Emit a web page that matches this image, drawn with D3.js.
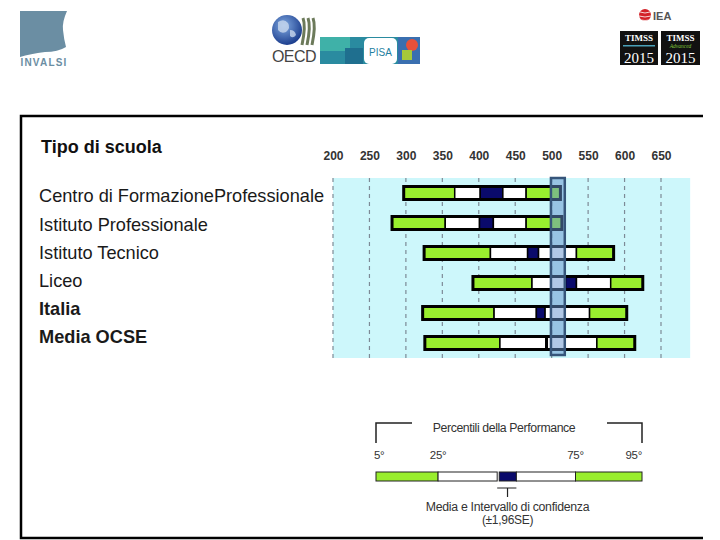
<!DOCTYPE html>
<html>
<head>
<meta charset="utf-8">
<script src="https://cdn.jsdelivr.net/npm/d3@7"></script>
<style>
  body { margin: 0; background: #fff; }
  svg { display: block; font-family: "Liberation Sans", Arial, sans-serif; }
</style>
</head>
<body>
<script>
// dati (punteggi PISA per tipo di scuola)
var categories = ["Centro di FormazioneProfessionale", "Istituto Professionale", "Istituto Tecnico", "Liceo", "Italia", "Media OCSE"];
var boldRows = ["Italia", "Media OCSE"];
var p5     = [297, 281, 325, 392, 323, 326];
var p25    = [367, 354, 416, 473, 421, 429];
var ciLow  = [402, 401, 467, 519, 479, 492];
var ciHigh = [433, 420, 482, 534, 491, 494];
var p75    = [465, 465, 534, 581, 552, 562];
var p95    = [512, 514, 585, 625, 603, 614];
var tickValues = [200, 250, 300, 350, 400, 450, 500, 550, 600, 650];
var oecdBand = [499, 518];
var bgRange = [200, 690];

// legenda (posizioni schematiche in percentili)
var legendLabels = ["5°", "25°", "75°", "95°"];

var W = 720, H = 540;
var svg = d3.select("body").append("svg").attr("width", W).attr("height", H);

var x = d3.scaleLinear().domain([200, 650]).range([333, 661]);
var yBar = d3.scalePoint().domain(categories).range([193, 343]);
var yLab = d3.scalePoint().domain(categories).range([196, 337]);

var green = "#99ee2e", navy = "#0a0a6b", cyan = "#cdf7fb";

// ---- cornice ----
svg.append("path")
  .attr("d", "M703,116 H21 V538 H703")
  .attr("fill", "none").attr("stroke", "#000").attr("stroke-width", 2.5);

// ---- loghi (approssimati) ----
var logos = svg.append("g");
// INVALSI
logos.append("path")
  .attr("d", "M20,11 L67,11 Q62,22 63,30 Q64,40 66,47 Q58,52 45,52 Q30,54 20,57 Z")
  .attr("fill", "#6b8ea3");
logos.append("text").attr("x", 44).attr("y", 66).attr("text-anchor", "middle")
  .attr("font-size", 10).attr("font-weight", "bold").attr("letter-spacing", 1.2)
  .attr("fill", "#6b8ea3").text("INVALSI");
// OECD
var grad = svg.append("defs").append("radialGradient").attr("id", "globe")
  .attr("cx", "40%").attr("cy", "35%").attr("r", "65%");
grad.append("stop").attr("offset", "0%").attr("stop-color", "#7fa8e0");
grad.append("stop").attr("offset", "100%").attr("stop-color", "#1d3f8f");
logos.append("circle").attr("cx", 287).attr("cy", 30).attr("r", 15).attr("fill", "url(#globe)");
logos.append("path").attr("d", "M278,22 q6,-4 10,1 q3,5 -2,9 q-5,2 -8,-2 z M290,30 q5,0 6,5 q-3,4 -6,1 z")
  .attr("fill", "#c9d8ee").attr("opacity", 0.8);
[0, 5, 10].forEach(function (d) {
  logos.append("path")
    .attr("d", "M" + (303 + d) + ",18 q3,8 -1,27")
    .attr("fill", "none").attr("stroke", "#6c7a5a").attr("stroke-width", 3);
});
logos.append("text").attr("x", 294).attr("y", 62).attr("text-anchor", "middle")
  .attr("font-size", 16).attr("fill", "#444").attr("letter-spacing", -0.5).text("OECD");
// PISA
logos.append("rect").attr("x", 320).attr("y", 37).attr("width", 100).attr("height", 27).attr("fill", "#2a8ba0");
logos.append("rect").attr("x", 320).attr("y", 37).attr("width", 30).attr("height", 14).attr("fill", "#3fb1a8");
logos.append("rect").attr("x", 345).attr("y", 48).attr("width", 18).attr("height", 16).attr("fill", "#1f6f8f");
logos.append("rect").attr("x", 398).attr("y", 37).attr("width", 22).attr("height", 27).attr("fill", "#3a6fb0");
logos.append("circle").attr("cx", 412).attr("cy", 45).attr("r", 6).attr("fill", "#e8503a");
logos.append("path").attr("d", "M402,50 h10 v10 h-10 z").attr("fill", "#a6c93a");
logos.append("rect").attr("x", 364).attr("y", 38).attr("width", 33).attr("height", 26).attr("rx", 5).attr("fill", "#fff");
logos.append("text").attr("x", 380.5).attr("y", 56).attr("text-anchor", "middle")
  .attr("font-size", 10).attr("fill", "#1f7f9f").text("PISA");
// IEA
logos.append("circle").attr("cx", 645).attr("cy", 15).attr("r", 6).attr("fill", "#d32128");
logos.append("path").attr("d", "M640,12 q5,2 10,0 M639,16 q6,2 12,0 M641,20 q4,1 8,0")
  .attr("fill", "none").attr("stroke", "#fff").attr("stroke-width", 0.8);
logos.append("text").attr("x", 653).attr("y", 20).attr("font-size", 11).attr("font-weight", "bold")
  .attr("fill", "#555").text("IEA");
// TIMSS
[[620, 38], [661, 39]].forEach(function (b, i) {
  logos.append("rect").attr("x", b[0]).attr("y", 31).attr("width", b[1]).attr("height", 34).attr("fill", "#111");
  logos.append("text").attr("x", b[0] + b[1] / 2).attr("y", 41).attr("text-anchor", "middle")
    .attr("font-family", "'Liberation Serif', serif").attr("font-weight", "bold")
    .attr("font-size", 9).attr("fill", "#fff").text("TIMSS");
  if (i === 0) {
    logos.append("rect").attr("x", b[0] + 3).attr("y", 45).attr("width", b[1] - 6).attr("height", 1.5).attr("fill", "#4aa0b8");
  } else {
    logos.append("text").attr("x", b[0] + b[1] / 2).attr("y", 47.5).attr("text-anchor", "middle")
      .attr("font-family", "'Liberation Serif', serif").attr("font-style", "italic")
      .attr("font-size", 5.5).attr("fill", "#7fc43a").text("Advanced");
  }
  logos.append("text").attr("x", b[0] + b[1] / 2).attr("y", 63).attr("text-anchor", "middle")
    .attr("font-family", "'Liberation Serif', serif")
    .attr("font-size", 15).attr("fill", "#fff").text("2015");
});

// ---- titolo e etichette ----
svg.append("text").attr("x", 41).attr("y", 153)
  .attr("font-size", 18).attr("font-weight", "bold").attr("fill", "#111").text("Tipo di scuola");

svg.selectAll(".lab").data(categories).enter().append("text")
  .attr("class", "lab")
  .attr("x", 39)
  .attr("y", function (d) { return yLab(d); })
  .attr("dy", "0.35em")
  .attr("font-size", 18.2)
  .attr("font-weight", function (d) { return boldRows.indexOf(d) >= 0 ? "bold" : "normal"; })
  .attr("fill", "#1a1a1a")
  .text(function (d) { return d; });

// ---- sfondo e griglia ----
svg.append("rect")
  .attr("x", x(bgRange[0])).attr("y", 178)
  .attr("width", x(bgRange[1]) - x(bgRange[0])).attr("height", 180)
  .attr("fill", cyan);

svg.selectAll(".grid").data(tickValues).enter().append("line")
  .attr("class", "grid")
  .attr("x1", function (d) { return x(d); }).attr("x2", function (d) { return x(d); })
  .attr("y1", 178).attr("y2", 358)
  .attr("stroke", "#7d8a96").attr("stroke-width", 1.2).attr("stroke-dasharray", "4,4");

var axis = svg.append("g").attr("transform", "translate(0,160)")
  .call(d3.axisTop(x).tickValues(tickValues).tickSize(0).tickPadding(0));
axis.select(".domain").remove();
axis.selectAll("text").attr("font-size", 12).attr("font-weight", "bold").attr("fill", "#333")
  .attr("font-family", "'Liberation Sans', Arial, sans-serif");

// ---- barre ----
var barH = 13;
var rows = categories.map(function (c, i) {
  return { cat: c, segs: [
    [p5[i], p25[i], green], [p25[i], ciLow[i], "#fff"], [ciLow[i], ciHigh[i], navy],
    [ciHigh[i], p75[i], "#fff"], [p75[i], p95[i], green]] };
});

var g = svg.selectAll(".row").data(rows).enter().append("g")
  .attr("class", "row")
  .attr("transform", function (d) { return "translate(0," + (yBar(d.cat) - barH / 2) + ")"; });

g.selectAll("rect").data(function (d) { return d.segs; }).enter().append("rect")
  .attr("x", function (s) { return x(s[0]); })
  .attr("width", function (s) { return Math.max(0, x(s[1]) - x(s[0])); })
  .attr("height", barH)
  .attr("fill", function (s) { return s[2]; })
  .attr("stroke", "#000").attr("stroke-width", 1.5);

g.append("rect")
  .attr("x", function (d, i) { return x(p5[i]); })
  .attr("width", function (d, i) { return x(p95[i]) - x(p5[i]); })
  .attr("height", barH)
  .attr("fill", "none").attr("stroke", "#000").attr("stroke-width", 3);

// banda media OCSE
svg.append("rect")
  .attr("x", x(oecdBand[0])).attr("y", 178)
  .attr("width", x(oecdBand[1]) - x(oecdBand[0])).attr("height", 177)
  .attr("fill", "rgb(100,145,205)").attr("fill-opacity", 0.5)
  .attr("stroke", "#36557a").attr("stroke-width", 2.5);

// ---- legenda ----
var lx = d3.scaleLinear().domain([5, 95]).range([376, 642]);
var lg = svg.append("g");
lg.append("path").attr("d", "M" + lx(5) + ",443 V423 H412 M607,423 H" + lx(95) + " V443")
  .attr("fill", "none").attr("stroke", "#222").attr("stroke-width", 1.5);
lg.append("text").attr("x", 504).attr("y", 432).attr("text-anchor", "middle")
  .attr("font-size", 12.3).attr("fill", "#333").attr("letter-spacing", -0.4).text("Percentili della Performance");

var legSegs = [[5, 26, green], [26, 46, "#fff"], [46.7, 52.5, navy], [52.5, 72.5, "#fff"], [72.5, 95, green]];
lg.selectAll("rect").data(legSegs).enter().append("rect")
  .attr("x", function (s) { return lx(s[0]); })
  .attr("width", function (s) { return lx(s[1]) - lx(s[0]); })
  .attr("y", 472).attr("height", 9)
  .attr("fill", function (s) { return s[2]; })
  .attr("stroke", "#222").attr("stroke-width", 1);

var legTick = [[5, "start"], [26, "middle"], [72.5, "middle"], [95, "end"]];
lg.selectAll(".lt").data(legTick).enter().append("text")
  .attr("x", function (d, i) { return lx(d[0]) + (i === 0 ? -2 : 0); })
  .attr("y", 459)
  .attr("text-anchor", function (d) { return d[1]; })
  .attr("font-size", 11.5).attr("fill", "#333").attr("letter-spacing", -0.3)
  .text(function (d, i) { return legendLabels[i]; });

lg.append("path").attr("d", "M" + lx(46) + ",488 H" + lx(52.5) + " M" + lx(49.5) + ",488 V497")
  .attr("fill", "none").attr("stroke", "#222").attr("stroke-width", 1.2);
lg.append("text").attr("x", lx(49.5)).attr("y", 511).attr("text-anchor", "middle")
  .attr("font-size", 12.3).attr("fill", "#333").attr("letter-spacing", -0.3).text("Media e Intervallo di confidenza");
lg.append("text").attr("x", lx(49.5)).attr("y", 524).attr("text-anchor", "middle")
  .attr("font-size", 12).attr("fill", "#333").attr("letter-spacing", -0.3).text("(±1,96SE)");
</script>
</body>
</html>
